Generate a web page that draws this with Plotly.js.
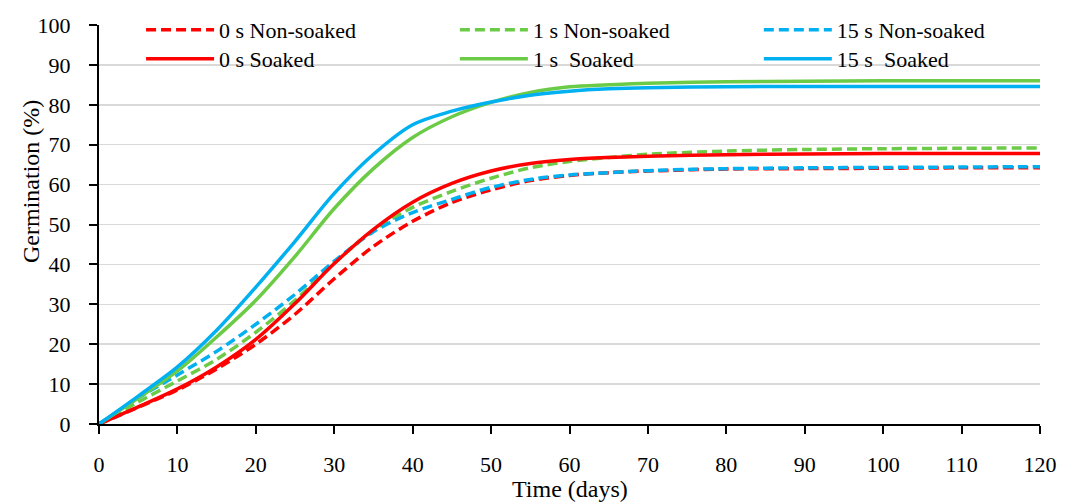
<!DOCTYPE html>
<html>
<head>
<meta charset="utf-8">
<script src="https://cdn.plot.ly/plotly-3.0.1.min.js"></script>
<style>
html,body{margin:0;padding:0;background:#fff;}
#chart{width:1075px;height:502px;}
</style>
</head>
<body>
<div id="chart"></div>
<script>
// Time (days)
var days = [0, 5, 10, 15, 20, 25, 30, 35, 40, 45, 50, 55, 60, 65, 70, 80, 90, 100, 110, 120];

// Germination (%)
var nonSoaked0 = [0, 4.2, 8.5, 13.8, 20.0, 27.5, 36.4, 44.5, 50.8, 55.5, 58.7, 61.0, 62.3, 63.0, 63.4, 63.9, 64.0, 64.1, 64.2, 64.2];
var nonSoaked1 = [0, 5.5, 10.8, 16.2, 23.0, 31.0, 40.3, 48.5, 54.3, 58.3, 61.6, 64.2, 65.8, 66.8, 67.6, 68.4, 68.8, 69.0, 69.1, 69.2];
var nonSoaked15 = [0, 6.5, 12.3, 18.2, 25.0, 32.5, 40.8, 48.2, 53.0, 56.3, 59.3, 61.3, 62.4, 63.0, 63.5, 64.0, 64.2, 64.3, 64.4, 64.5];
var soaked0 = [0, 4.3, 8.8, 14.3, 21.2, 30.2, 40.2, 48.8, 55.6, 60.3, 63.4, 65.3, 66.3, 66.8, 67.1, 67.5, 67.7, 67.8, 67.8, 67.8];
var soaked1 = [0, 6.5, 13.3, 21.8, 31.0, 42.0, 54.0, 64.0, 71.8, 77.0, 80.6, 83.1, 84.5, 85.0, 85.4, 85.8, 85.9, 86.0, 86.0, 86.0];
var soaked15 = [0, 7.0, 14.3, 23.5, 34.3, 45.8, 57.8, 67.6, 75.0, 78.4, 80.7, 82.4, 83.4, 84.0, 84.3, 84.5, 84.6, 84.6, 84.6, 84.6];

var seriesNames = ["0 s Non-soaked", "1 s Non-soaked", "15 s Non-soaked", "0 s Soaked", "1 s  Soaked", "15 s  Soaked"];
var seriesValues = [nonSoaked0, nonSoaked1, nonSoaked15, soaked0, soaked1, soaked15];

var xTicks = [0, 10, 20, 30, 40, 50, 60, 70, 80, 90, 100, 110, 120];
var yTicks = [0, 10, 20, 30, 40, 50, 60, 70, 80, 90, 100];

var colors = ["#FF0000", "#6CCB46", "#00B0F0", "#FF0000", "#6CCB46", "#00B0F0"];
var dashes = ["10px,5px", "10px,5px", "10px,5px", "solid", "solid", "solid"];
var legendIds = ["legend", "legend2", "legend3", "legend4", "legend5", "legend6"];
var legendX = [0.0447, 0.3782, 0.7012, 0.0447, 0.3782, 0.7012];
var legendY = [0.982, 0.982, 0.982, 0.9243, 0.9243, 0.9243];

var FONT = "Liberation Serif";

var traces = seriesNames.map(function (name, i) {
  return {
    x: days,
    y: seriesValues[i],
    name: name,
    type: "scatter",
    mode: "lines",
    legend: legendIds[i],
    line: {color: colors[i], width: 3.5, dash: dashes[i], shape: "spline", smoothing: 0.9}
  };
});

function legendAt(xp, yp) {
  return {
    orientation: "v",
    x: xp, xanchor: "left", xref: "paper",
    y: yp, yanchor: "top", yref: "container",
    bgcolor: "rgba(0,0,0,0)",
    font: {family: FONT, size: 22, color: "#000"},
    itemwidth: 68,
    traceorder: "normal",
    tracegroupgap: 0
  };
}

var layout = {
  width: 1075,
  height: 502,
  margin: {l: 99, r: 35, t: 25, b: 78, autoexpand: false},
  paper_bgcolor: "#ffffff",
  plot_bgcolor: "#ffffff",
  font: {family: FONT, size: 22, color: "#000"},
  showlegend: true,
  xaxis: {
    range: [0, 120],
    tickvals: xTicks,
    ticktext: xTicks.map(String),
    showgrid: false,
    zeroline: false,
    showline: true, linecolor: "#000", linewidth: 2,
    ticks: "outside", ticklen: 8, tickwidth: 2, tickcolor: "#000",
    ticklabelstandoff: 12,
    tickfont: {family: FONT, size: 22, color: "#000"},
    fixedrange: true
  },
  yaxis: {
    range: [0, 100],
    tickvals: yTicks,
    ticktext: yTicks.map(String),
    showgrid: true, gridcolor: "#D9D9D9", gridwidth: 1.5,
    zeroline: false,
    showline: true, linecolor: "#000", linewidth: 2,
    ticks: "outside", ticklen: 8, tickwidth: 2, tickcolor: "#000",
    ticklabelstandoff: 14,
    tickfont: {family: FONT, size: 22, color: "#000"},
    fixedrange: true
  },
  annotations: [
    {text: "Time (days)", xref: "paper", yref: "paper", x: 0.5, y: -0.163,
     xanchor: "center", yanchor: "middle", showarrow: false,
     font: {family: FONT, size: 24, color: "#000"}},
    {text: "Germination (%)", xref: "paper", yref: "paper", x: -0.0723, y: 0.609,
     xanchor: "center", yanchor: "middle", showarrow: false, textangle: -90,
     font: {family: FONT, size: 24, color: "#000"}}
  ]
};
legendIds.forEach(function (id, i) { layout[id] = legendAt(legendX[i], legendY[i]); });

Plotly.newPlot("chart", traces, layout, {displayModeBar: false, staticPlot: true});
</script>
</body>
</html>
